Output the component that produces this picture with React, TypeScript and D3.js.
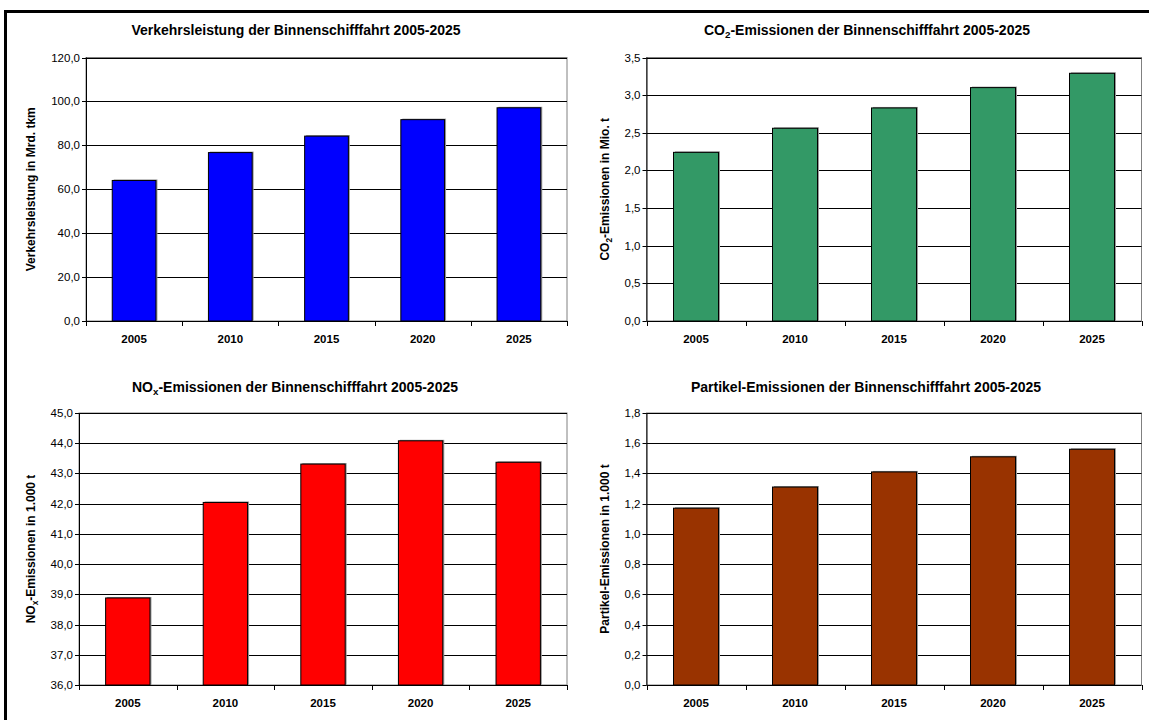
import React from "react";
import * as d3 from "d3";

// Categories shared by all four panels
const years = ["2005", "2010", "2015", "2020", "2025"];

// Series values per panel
const verkehrsleistung = [64.0, 76.7, 84.2, 91.7, 97.1];
const co2Emissionen = [2.24, 2.56, 2.83, 3.1, 3.29];
const noxEmissionen = [38.88, 42.04, 43.31, 44.08, 43.37];
const partikelEmissionen = [1.17, 1.31, 1.41, 1.51, 1.56];

// Y-axis tick values per panel
const ticksVerkehr = [0, 20, 40, 60, 80, 100, 120];
const ticksCo2 = [0, 0.5, 1.0, 1.5, 2.0, 2.5, 3.0, 3.5];
const ticksNox = [36, 37, 38, 39, 40, 41, 42, 43, 44, 45];
const ticksPartikel = [0, 0.2, 0.4, 0.6, 0.8, 1.0, 1.2, 1.4, 1.6, 1.8];

type Part = { t: string; sub?: boolean };

type Panel = {
  title: Part[];
  yTitle: Part[];
  values: number[];
  ticks: number[];
  color: string;
  left: number;
  right: number;
  top: number;
  bottom: number;
  titleX: number;
  titleY: number;
  yTitleX: number;
  labelY: number;
};

const FONT = "'Liberation Sans', Arial, Helvetica, sans-serif";

const panels: Panel[] = [
  {
    title: [{ t: "Verkehrsleistung der Binnenschifffahrt 2005-2025" }],
    yTitle: [{ t: "Verkehrsleistung in Mrd. tkm" }],
    values: verkehrsleistung,
    ticks: ticksVerkehr,
    color: "#0000FF",
    left: 86,
    right: 567,
    top: 57.5,
    bottom: 321,
    titleX: 296,
    titleY: 35,
    yTitleX: 35,
    labelY: 343,
  },
  {
    title: [
      { t: "CO" },
      { t: "2", sub: true },
      { t: "-Emissionen der Binnenschifffahrt 2005-2025" },
    ],
    yTitle: [{ t: "CO" }, { t: "2", sub: true }, { t: "-Emissionen in Mio. t" }],
    values: co2Emissionen,
    ticks: ticksCo2,
    color: "#339966",
    left: 646.5,
    right: 1141.5,
    top: 57.5,
    bottom: 321,
    titleX: 867,
    titleY: 35,
    yTitleX: 609,
    labelY: 343,
  },
  {
    title: [
      { t: "NO" },
      { t: "x", sub: true },
      { t: "-Emissionen der Binnenschifffahrt 2005-2025" },
    ],
    yTitle: [{ t: "NO" }, { t: "x", sub: true }, { t: "-Emissionen in 1.000 t" }],
    values: noxEmissionen,
    ticks: ticksNox,
    color: "#FF0000",
    left: 79,
    right: 567,
    top: 413,
    bottom: 685,
    titleX: 295,
    titleY: 392,
    yTitleX: 35,
    labelY: 707,
  },
  {
    title: [{ t: "Partikel-Emissionen der Binnenschifffahrt 2005-2025" }],
    yTitle: [{ t: "Partikel-Emissionen in 1.000 t" }],
    values: partikelEmissionen,
    ticks: ticksPartikel,
    color: "#993300",
    left: 646.5,
    right: 1141.5,
    top: 413,
    bottom: 685,
    titleX: 866,
    titleY: 392,
    yTitleX: 609,
    labelY: 707,
  },
];

const fmt = (v: number) => d3.format(".1f")(v).replace(".", ",");

function Rich({ parts }: { parts: Part[] }) {
  return (
    <>
      {parts.map((p, i) =>
        p.sub ? (
          <tspan key={i} fontSize="0.7em" dy="0.3em">
            {p.t}
          </tspan>
        ) : (
          <tspan key={i} dy={i > 0 && parts[i - 1].sub ? "-0.21em" : undefined}>
            {p.t}
          </tspan>
        )
      )}
    </>
  );
}

function BarPanel({ p }: { p: Panel }) {
  const yMin = p.ticks[0];
  const yMax = p.ticks[p.ticks.length - 1];
  const y = d3.scaleLinear().domain([yMin, yMax]).range([p.bottom, p.top]);
  const gap = 1 - 1 / 2.2;
  const x = d3
    .scaleBand<string>()
    .domain(years)
    .range([p.left, p.right])
    .paddingInner(gap)
    .paddingOuter(gap / 2);
  const step = x.step();
  const boundaries = d3.range(years.length + 1).map((k) => p.left + k * step);

  return (
    <g fontFamily={FONT}>
      <text
        x={p.titleX}
        y={p.titleY}
        textAnchor="middle"
        fontSize={14}
        fontWeight="bold"
        fill="#000"
      >
        <Rich parts={p.title} />
      </text>

      {/* plot frame */}
      <rect
        x={p.left}
        y={p.top}
        width={p.right - p.left}
        height={p.bottom - p.top}
        fill="#fff"
        stroke="#808080"
        strokeWidth={1}
      />

      {/* horizontal gridlines */}
      {p.ticks.slice(1).map((t) => (
        <line
          key={t}
          x1={p.left}
          x2={p.right}
          y1={Math.round(y(t)) + 0.5}
          y2={Math.round(y(t)) + 0.5}
          stroke="#000"
          strokeWidth={1}
        />
      ))}

      {/* bars */}
      {p.values.map((v, i) => {
        const x0 = x(years[i])!;
        const yt = y(v);
        return (
          <g key={years[i]}>
            <rect
              x={x0 + 1.5}
              y={yt - 1}
              width={x.bandwidth()}
              height={p.bottom - yt + 1}
              fill="#9a9a9a"
            />
            <rect
              x={x0}
              y={yt}
              width={x.bandwidth()}
              height={p.bottom - yt}
              fill={p.color}
              stroke="#000"
              strokeWidth={1}
            />
          </g>
        );
      })}

      {/* y axis */}
      <line x1={p.left + 0.5} x2={p.left + 0.5} y1={p.top} y2={p.bottom} stroke="#000" />
      {p.ticks.map((t) => (
        <g key={t}>
          <line
            x1={p.left - 4}
            x2={p.left}
            y1={Math.round(y(t)) + 0.5}
            y2={Math.round(y(t)) + 0.5}
            stroke="#000"
          />
          <text
            x={p.left - 6}
            y={y(t)}
            dy="0.35em"
            textAnchor="end"
            fontSize={11.5}
            fill="#000"
          >
            {fmt(t)}
          </text>
        </g>
      ))}

      {/* x axis */}
      <line x1={p.left} x2={p.right} y1={p.bottom + 0.5} y2={p.bottom + 0.5} stroke="#000" />
      {boundaries.map((bx, k) => (
        <line
          key={k}
          x1={Math.round(bx) + 0.5}
          x2={Math.round(bx) + 0.5}
          y1={p.bottom}
          y2={p.bottom + 5}
          stroke="#000"
        />
      ))}
      {years.map((yr) => (
        <text
          key={yr}
          x={x(yr)! + x.bandwidth() / 2}
          y={p.labelY}
          textAnchor="middle"
          fontSize={11.5}
          fontWeight="bold"
          fill="#000"
        >
          {yr}
        </text>
      ))}

      {/* y axis title */}
      <text
        transform={`translate(${p.yTitleX},${(p.top + p.bottom) / 2}) rotate(-90)`}
        textAnchor="middle"
        fontSize={12}
        fontWeight="bold"
        fill="#000"
      >
        <Rich parts={p.yTitle} />
      </text>
    </g>
  );
}

export default function App() {
  return (
    <svg
      width={1149}
      height={720}
      style={{ position: "absolute", left: 0, top: 0, display: "block", background: "#fff" }}
    >
      <rect x={0} y={0} width={1149} height={720} fill="#fff" />
      {panels.map((p, i) => (
        <BarPanel key={i} p={p} />
      ))}
      {/* outer frame */}
      <line x1={5.5} x2={5.5} y1={10} y2={720} stroke="#000" strokeWidth={3} />
      <line x1={4} x2={1149} y1={11.5} y2={11.5} stroke="#000" strokeWidth={3} />
    </svg>
  );
}
